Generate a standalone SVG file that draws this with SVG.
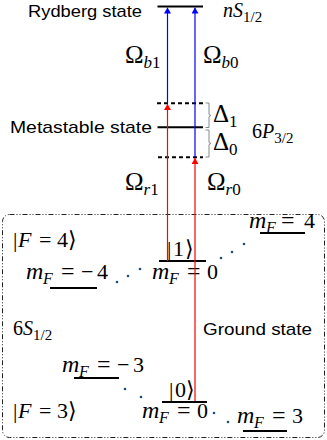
<svg xmlns="http://www.w3.org/2000/svg" width="327" height="440" viewBox="0 0 327 440">
<style>
.lbl{font-family:"Liberation Sans",Arial,sans-serif;font-size:17px;fill:#000}
.m{font-family:"Liberation Serif","DejaVu Serif",serif;fill:#000}
.i{font-style:italic}
.lvl{stroke:#000;stroke-width:2;fill:none}
.dash{stroke:#000;stroke-width:2;stroke-dasharray:4 3;fill:none}
.br{stroke:#888;stroke-width:1;fill:none}
.dot{fill:#1f4e79}
</style>
<defs>
<marker id="ab" viewBox="0 0 6 7" refX="6" refY="3.5" markerWidth="6" markerHeight="7" markerUnits="userSpaceOnUse" orient="auto"><path d="M0,0 L6,3.5 L0,7 Z" fill="#0000ff"/></marker>
<marker id="ar" viewBox="0 0 6 7" refX="6" refY="3.5" markerWidth="6" markerHeight="7" markerUnits="userSpaceOnUse" orient="auto"><path d="M0,0 L6,3.5 L0,7 Z" fill="#ff0000"/></marker>
</defs>

<g id="ground-box">
<rect x="2.5" y="214.5" width="322" height="223" rx="7" fill="none" stroke="#222" stroke-width="1" stroke-dasharray="5 2 1 2 1 2"/>
<text class="m" x="13" y="335" font-size="20">6<tspan class="i">S</tspan><tspan font-size="15" dy="5">1/2</tspan></text>
<text class="lbl" x="203" y="335" textLength="109" lengthAdjust="spacingAndGlyphs">Ground state</text>
</g>

<g id="rydberg">
<line class="lvl" x1="157.5" y1="6.5" x2="203" y2="6.5"/>
<text class="lbl" x="28" y="17" textLength="114" lengthAdjust="spacingAndGlyphs">Rydberg state</text>
<text class="m" x="223" y="17" font-size="20"><tspan class="i">nS</tspan><tspan font-size="15" dy="5">1/2</tspan></text>
</g>

<g id="metastable">
<line class="lvl" x1="157.5" y1="127.3" x2="203" y2="127.3"/>
<line class="dash" x1="157" y1="103.3" x2="203" y2="103.3"/>
<line class="dash" x1="158" y1="157.3" x2="203" y2="157.3"/>
<text class="lbl" x="10" y="133" textLength="142" lengthAdjust="spacingAndGlyphs">Metastable state</text>
<text class="m" x="252" y="138" font-size="20">6<tspan class="i">P</tspan><tspan font-size="15" dy="5">3/2</tspan></text>
<path class="br" d="M205.5,103 H209 V114.5 L211,115.5 L209,116.5 V127.5 H205.5"/>
<path class="br" d="M205.5,130 H209 V142.5 L211,143.5 L209,144.5 V157 H205.5"/>
<text class="m" x="213" y="122" font-size="25">Δ<tspan font-size="17" dy="5">1</tspan></text>
<text class="m" x="213" y="150" font-size="25">Δ<tspan font-size="17" dy="5">0</tspan></text>
</g>

<g id="F4">
<text class="m" font-size="22" y="247"><tspan x="13">|</tspan><tspan x="18" class="i">F</tspan><tspan x="39">=</tspan><tspan x="57">4</tspan><tspan x="68">⟩</tspan></text>
</g>
<g id="F4-m-4">
<line class="lvl" x1="50" y1="288" x2="97" y2="288"/>
<text class="m" font-size="22" y="279"><tspan x="26" class="i" font-size="24">m</tspan><tspan x="43" dy="5" class="i" font-size="16">F</tspan><tspan x="61" dy="-5" font-size="24">=</tspan><tspan x="81">−</tspan><tspan x="97">4</tspan></text>
</g>
<g id="state1">
<line class="lvl" x1="159" y1="261" x2="206" y2="261"/>
<text class="m" font-size="22" y="256"><tspan x="167">|</tspan><tspan x="173">1</tspan><tspan x="185">⟩</tspan></text>
<text class="m" font-size="22" y="279"><tspan x="152" class="i" font-size="24">m</tspan><tspan x="169" dy="5" class="i" font-size="16">F</tspan><tspan x="187" dy="-5" font-size="24">=</tspan><tspan x="207">0</tspan></text>
</g>
<g id="F4-m4">
<line class="lvl" x1="260" y1="233" x2="305" y2="233"/>
<text class="m" font-size="22" y="228"><tspan x="249" class="i" font-size="24">m</tspan><tspan x="266" dy="5" class="i" font-size="16">F</tspan><tspan x="281" dy="-5" font-size="24">=</tspan><tspan x="304">4</tspan></text>
</g>

<g id="F3">
<text class="m" font-size="22" y="418"><tspan x="13">|</tspan><tspan x="18" class="i">F</tspan><tspan x="39">=</tspan><tspan x="57">3</tspan><tspan x="68">⟩</tspan></text>
</g>
<g id="F3-m-3">
<line class="lvl" x1="74" y1="378" x2="119" y2="378"/>
<text class="m" font-size="22" y="372"><tspan x="62" class="i" font-size="24">m</tspan><tspan x="79" dy="5" class="i" font-size="16">F</tspan><tspan x="97" dy="-5" font-size="24">=</tspan><tspan x="117">−</tspan><tspan x="133">3</tspan></text>
</g>
<g id="state0">
<line class="lvl" x1="162" y1="402" x2="207" y2="402"/>
<text class="m" font-size="22" y="397"><tspan x="169">|</tspan><tspan x="175">0</tspan><tspan x="186">⟩</tspan></text>
<text class="m" font-size="22" y="418"><tspan x="142" class="i" font-size="24">m</tspan><tspan x="159" dy="5" class="i" font-size="16">F</tspan><tspan x="177" dy="-5" font-size="24">=</tspan><tspan x="197">0</tspan></text>
</g>
<g id="F3-m3">
<line class="lvl" x1="243" y1="431" x2="287" y2="431"/>
<text class="m" font-size="22" y="423"><tspan x="237" class="i" font-size="24">m</tspan><tspan x="254" dy="5" class="i" font-size="16">F</tspan><tspan x="272" dy="-5" font-size="24">=</tspan><tspan x="292">3</tspan></text>
</g>

<g id="dots">
<circle class="dot" cx="117" cy="282" r="1.3"/>
<circle class="dot" cx="128" cy="276" r="1.3"/>
<circle class="dot" cx="140" cy="269" r="1.3"/>
<circle class="dot" cx="221" cy="258" r="1.3"/>
<circle class="dot" cx="232" cy="252" r="1.3"/>
<circle class="dot" cx="244" cy="244" r="1.3"/>
<circle class="dot" cx="125" cy="389" r="1.3"/>
<circle class="dot" cx="141" cy="397" r="1.3"/>
<circle class="dot" cx="214" cy="413" r="1.3"/>
<circle class="dot" cx="228" cy="422" r="1.3"/>
</g>

<g id="connectors">
<line x1="167.5" y1="103.3" x2="167.5" y2="7.5" stroke="#0000ff" stroke-width="1.2" marker-end="url(#ab)"/>
<line x1="195" y1="157.3" x2="195" y2="7.5" stroke="#0000ff" stroke-width="1.2" marker-end="url(#ab)"/>
<line x1="167.5" y1="261" x2="167.5" y2="104" stroke="#ff0000" stroke-width="1.2" marker-end="url(#ar)"/>
<line x1="195" y1="401" x2="195" y2="158" stroke="#ff0000" stroke-width="1.2" marker-end="url(#ar)"/>
<text class="m" x="125" y="63" font-size="25">Ω<tspan class="i" font-size="17" dy="5">b</tspan><tspan font-size="17">1</tspan></text>
<text class="m" x="203" y="63" font-size="25">Ω<tspan class="i" font-size="17" dy="5">b</tspan><tspan font-size="17">0</tspan></text>
<text class="m" x="125" y="190" font-size="25">Ω<tspan class="i" font-size="17" dy="5">r</tspan><tspan font-size="17">1</tspan></text>
<text class="m" x="207" y="190" font-size="25">Ω<tspan class="i" font-size="17" dy="5">r</tspan><tspan font-size="17">0</tspan></text>
</g>
</svg>
